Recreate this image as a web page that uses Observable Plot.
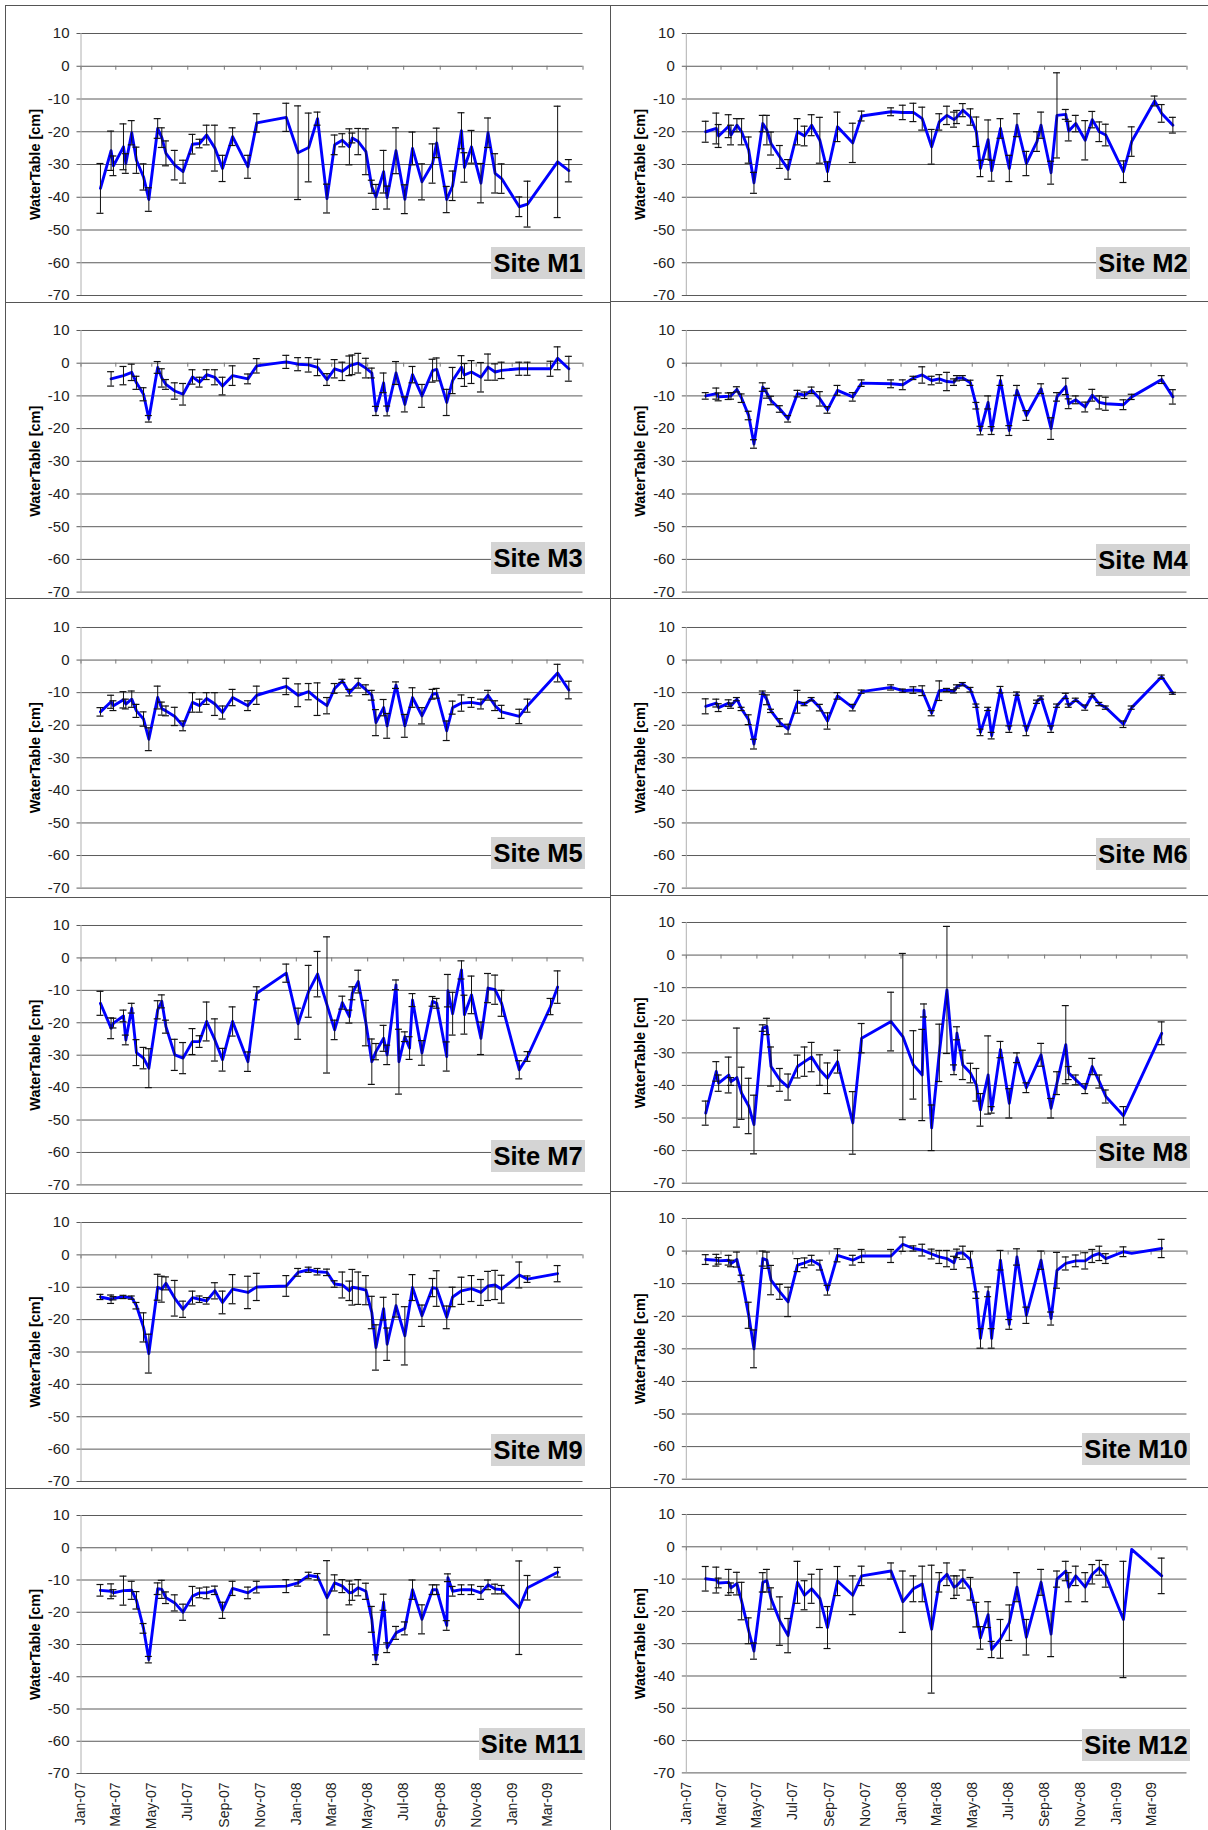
<!DOCTYPE html>
<html><head><meta charset="utf-8">
<script src="https://cdn.jsdelivr.net/npm/d3@7"></script>
<script src="https://cdn.jsdelivr.net/npm/@observablehq/plot@0.6"></script>
<style>
html,body{margin:0;padding:0;background:#fff;overflow:hidden;}
#fig{position:relative;width:1208px;height:1830px;overflow:hidden;background:#fff;font-family:"Liberation Sans",Arial,sans-serif;}
#fig svg{position:absolute;overflow:visible;}
#fig svg [aria-label^="y-axis"] text{font-size:15px;font-family:"Liberation Sans",Arial,sans-serif;fill:#222;}
#fig svg [aria-label^="x-axis"] text{font-size:14px;font-family:"Liberation Sans",Arial,sans-serif;fill:#222;}
.hline{position:absolute;height:1px;background:#555;}
.vline{position:absolute;width:1px;background:#555;}
.site{position:absolute;background:#d4d4d4;font-weight:bold;font-size:25.5px;color:#000;height:32px;line-height:33px;padding:0 2px;white-space:nowrap;font-family:"Liberation Sans",Arial,sans-serif;}
</style></head>
<body><div id="fig"></div>
<script>
// ---------- DATA ----------
const sampleDates = [
"2007-02-03","2007-02-21","2007-02-25","2007-03-14","2007-03-18","2007-03-28","2007-04-05","2007-04-17","2007-04-26","2007-05-11",
"2007-05-18","2007-05-25","2007-06-09","2007-06-23","2007-07-09","2007-07-21","2007-08-02","2007-08-16","2007-08-29","2007-09-15",
"2007-10-11","2007-10-26","2007-12-15","2008-01-04","2008-01-22","2008-02-06","2008-02-22","2008-03-06","2008-03-19","2008-03-31",
"2008-04-05","2008-04-15","2008-04-28","2008-05-08","2008-05-15","2008-05-28","2008-06-03","2008-06-18","2008-07-03","2008-07-16",
"2008-08-01","2008-08-19","2008-08-26","2008-09-12","2008-09-22","2008-10-07","2008-10-12","2008-10-24","2008-11-09","2008-11-21",
"2008-12-03","2008-12-14","2009-01-13","2009-01-27","2009-03-07","2009-03-19","2009-04-07",
"2008-02-09","2008-06-23","2008-07-11","2008-09-14"];

const yTicks = [10, 0, -10, -20, -30, -40, -50, -60, -70];
const xTickLabels = ["Jan-07","Mar-07","May-07","Jul-07","Sep-07","Nov-07","Jan-08","Mar-08","May-08","Jul-08","Sep-08","Nov-08","Jan-09","Mar-09"];
const siteNames = ["Site M1","Site M2","Site M3","Site M4","Site M5","Site M6","Site M7","Site M8","Site M9","Site M10","Site M11","Site M12"];
const yTitle = "WaterTable [cm]";

// each row: [sample date index, mean water table (cm), error (cm)]
const siteM1 = [[0,-37.3,7.6],[1,-25.8,6],[2,-30.4,3],[3,-24.6,7],[4,-29.7,3],[5,-20.3,3.7],[6,-28.7,4],[7,-33.8,4],[8,-40.7,3.6],[9,-19,3],[10,-21.8,3],[11,-26.6,3.8],[12,-30.2,4.5],[13,-32.2,3.5],[14,-23.8,3],[15,-23.6,1.3],[16,-21,3],[17,-25,7],[18,-31.2,4],[19,-21.5,2.7],[20,-30.7,3.5],[21,-17.3,2.8],[22,-15.6,4.3],[23,-26.4,14.3],[24,-24.8,10.5],[25,-16,2],[26,-40.4,4.4],[27,-24,3],[28,-22.6,2],[29,-24.6,5.5],[30,-21.9,1.5],[31,-23,4],[32,-26.1,7],[33,-36.8,2],[34,-39.9,3.8],[35,-32.2,6.5],[36,-40.1,3.5],[37,-25.8,7],[38,-40.6,4.4],[39,-25.1,5],[40,-35.3,5.5],[41,-29.7,6],[42,-23.4,4.5],[43,-40.7,4],[44,-36.5,4.5],[45,-19.7,5.5],[46,-30.9,4.5],[47,-24.6,5],[48,-35.7,6],[49,-20.3,4.5],[50,-32.7,6],[51,-34.3,4.5],[52,-42.9,3],[53,-42.1,7],[55,-29.2,17],[56,-31.9,3.4]];
const siteM2 = [[0,-20,3.2],[1,-19,4.7],[2,-21.3,3.5],[3,-18.3,3.5],[4,-21,3],[5,-18,2],[6,-20,4],[7,-25.6,4],[8,-35.6,3.2],[9,-17.5,2.5],[10,-19.5,4.5],[11,-23.6,3.5],[12,-27.7,3.5],[13,-31.5,3],[14,-20,4],[15,-21.3,3],[16,-18,3.2],[17,-22.6,7],[18,-32.2,3],[19,-18.5,4.5],[20,-23.4,6],[21,-15.2,1.5],[22,-13.9,1.2],[23,-14.1,2.2],[24,-14.1,2.8],[25,-16,3.5],[26,-24.6,5.3],[27,-17,2.5],[28,-15,2.8],[29,-16.3,2.3],[30,-15.5,2],[31,-13.4,2],[32,-15.5,2.5],[33,-20,4.5],[34,-31.2,2.5],[35,-22.4,6],[36,-31.9,3.2],[37,-19,3],[38,-31.2,4],[39,-18,3.5],[40,-29.7,3.7],[41,-23,3],[42,-18,4],[43,-32.5,3.5],[44,-15,13],[45,-14.7,1.5],[46,-19.8,3],[47,-17.5,2.5],[48,-22.6,6],[49,-16.3,2.5],[50,-20,3],[51,-21,3.3],[52,-32.2,3.3],[53,-23,4.5],[54,-10.6,1.5],[55,-14.4,2.7],[56,-18,2.4]];
const siteM3 = [[1,-4.8,2.2],[3,-3.8,2.8],[5,-2.8,2.5],[6,-6,2],[7,-9.5,2],[8,-17,1],[9,-1.3,1.8],[10,-4.5,2.8],[11,-6.5,1.5],[12,-8.5,2.5],[13,-9.5,3.3],[14,-4.2,2.2],[15,-5.8,1.5],[16,-3.5,1.5],[17,-4.3,2.3],[18,-7,2.7],[19,-3.8,3],[20,-4.8,1.5],[21,-0.8,2.2],[22,0.4,2],[23,-0.3,2],[24,-0.5,2.2],[25,-1.3,2.5],[26,-5,1.8],[27,-1.7,2.8],[28,-2.5,2.8],[29,-0.8,3],[30,-0.5,3],[31,0,3],[32,-1.5,3],[33,-3,1.5],[34,-14.6,1.4],[35,-6,3],[36,-14.6,1.5],[37,-3,3.5],[38,-12.6,2.3],[39,-3.5,2.5],[40,-10,3.5],[41,-2.3,3.5],[42,-1.9,3.5],[43,-12,4],[44,-5.3,4],[45,-1.2,3.5],[46,-3.6,3.5],[47,-2.7,3.5],[48,-4.3,4.5],[49,-1.2,4],[50,-2.7,2.5],[51,-2.2,2.5],[52,-1.7,2],[53,-1.7,2],[54,-1.7,2.3],[55,1.5,3.5],[56,-1.7,3.8]];
const siteM4 = [[0,-10,1],[1,-9.3,1.7],[2,-10.3,1.2],[3,-10.1,1],[4,-10,1],[5,-8,0.8],[6,-10.7,1.3],[7,-16,1.3],[8,-24.7,1.3],[9,-7.3,1.3],[10,-9.2,1.5],[11,-11.4,1.3],[12,-14,1],[13,-17,1],[14,-9.3,1],[15,-9.8,1],[16,-8.3,1],[17,-10.9,2.2],[18,-14.3,1],[19,-8.3,1.5],[20,-10.3,1.3],[21,-6.1,1],[22,-6.3,1.2],[23,-6.6,1.5],[24,-4.5,0.5],[25,-3.6,2.5],[26,-5.3,1.3],[27,-4.8,1.3],[28,-5.6,2.8],[29,-5.8,1],[30,-4.6,0.8],[31,-4.5,0.7],[32,-6,0.8],[33,-13,1],[34,-20.6,1.3],[35,-12,2],[36,-20.6,1.2],[37,-5.3,1.5],[38,-20.6,1.5],[39,-8.3,1.5],[40,-16,1.5],[42,-7.8,1.5],[43,-20,3.3],[44,-10.3,1.3],[45,-7.1,2.5],[46,-12.4,1.5],[47,-11.2,1.2],[48,-13.4,1.5],[49,-9.8,1.8],[50,-12,2],[51,-12.4,2],[52,-12.7,1.5],[53,-10.3,0.8],[55,-5,1.2],[56,-10.3,2.2]];
const siteM5 = [[0,-15.9,1.3],[1,-12.8,2],[2,-14,1.5],[3,-12.2,2.5],[4,-13.5,1.5],[5,-12,2.5],[6,-15.6,2],[7,-18.1,2.2],[8,-24.3,3.5],[9,-11.5,3.5],[10,-14.9,2],[11,-15.6,1.5],[12,-17.3,2.8],[13,-20.2,1.5],[14,-13,3],[15,-14,2],[16,-11.8,1.8],[17,-13.5,3.5],[18,-16.1,2],[19,-11.5,2.5],[20,-14,1.5],[21,-10.8,2.8],[22,-8.1,2.5],[23,-10.8,3.5],[24,-9.7,2.5],[25,-12,5],[26,-14,2.5],[27,-8.7,1.5],[28,-6.4,0.5],[29,-10,1],[31,-7.1,1.5],[32,-9.1,1.5],[33,-10.8,1.5],[34,-19.2,4],[35,-14.6,2.5],[36,-20.2,3.8],[37,-7.7,1],[38,-20.2,3.5],[39,-11.5,3],[40,-17.1,2.5],[41,-10.5,1.5],[42,-10.2,1.5],[43,-21.7,3],[44,-14.6,2],[45,-13.2,2.5],[47,-13,1.5],[48,-13.5,1.5],[49,-10.8,1.5],[50,-14,1.5],[51,-15.9,2],[52,-17.3,2.2],[53,-14,2],[55,-4,2.7],[56,-9.2,2.7]];
const siteM6 = [[0,-14.2,2.3],[1,-13.2,1.2],[2,-14.6,1.2],[3,-13.2,1],[4,-14,0.8],[5,-12,0.5],[6,-15,0.5],[7,-18.3,1.5],[8,-25.8,1.5],[9,-10,0.5],[10,-12.2,1.5],[11,-15.6,0.5],[12,-19.2,1.2],[13,-21.2,1.5],[14,-12.8,3.5],[15,-13.5,0.5],[16,-12,0.5],[17,-14.6,1],[18,-18.7,2.5],[19,-11,1],[20,-14.6,1],[21,-9.7,0.5],[22,-8.4,0.8],[23,-9.4,0.5],[24,-9.2,1],[25,-9.4,1.5],[26,-16.3,0.8],[27,-9.4,3],[28,-9.2,0.5],[29,-9.6,0.5],[30,-8.1,0.5],[31,-7.4,0.5],[32,-9.1,0.7],[33,-14,0.5],[34,-22.2,1],[35,-15,0.5],[36,-23.2,1],[37,-9.1,1],[38,-21.2,1],[39,-10.3,0.5],[40,-21.7,1.5],[41,-12.8,0.5],[42,-11.5,0.5],[43,-21.2,1],[44,-14,0.5],[45,-11,0.8],[46,-14,0.5],[47,-12.2,0.5],[48,-14.6,0.8],[49,-10.8,0.5],[50,-13.5,0.5],[51,-14.6,0.5],[52,-19.7,1],[53,-14.6,0.5],[55,-5.1,0.5],[56,-10.2,0.3]];
const siteM7 = [[0,-14,3.7],[1,-21.7,3.2],[2,-20.1,1.5],[3,-17.9,1.8],[4,-25.3,1.5],[5,-15.5,1.5],[6,-29.2,4],[7,-30.9,3.3],[8,-34,6],[9,-16,2.8],[10,-13.4,2],[11,-21.2,2],[12,-29.9,4.8],[13,-30.9,4.8],[14,-25.8,4],[15,-25.8,1.8],[16,-19.6,6],[17,-25.3,6.5],[18,-31.4,3.5],[19,-19.6,4.5],[20,-32,3],[21,-10.9,2],[22,-4.7,2.8],[23,-20.3,4.8],[24,-10.3,8],[25,-5,7],[26,-14.5,21],[27,-22.2,3],[28,-13.8,2],[29,-18.1,2],[30,-10.9,2],[31,-7.3,3.5],[32,-20.1,7],[33,-32,7],[34,-28.9,2.5],[35,-24.8,4],[36,-29.9,3],[37,-8.3,1.5],[58,-32,10],[38,-24.3,1.5],[59,-27.8,3.5],[39,-13,2],[40,-29.3,3.8],[41,-13.4,1.5],[42,-14,1.5],[43,-30.4,4.5],[60,-10.1,5],[44,-17.2,6.6],[45,-3.7,2.8],[46,-17.5,6],[47,-11.4,5.8],[48,-24.8,5],[49,-9.3,4.5],[50,-9.8,4.5],[51,-14,4],[52,-34.5,2.8],[53,-30.4,1.5],[54,-15,2.5],[55,-9,5]];
const siteM8 = [[0,-48.5,3.7],[1,-35.7,3],[2,-39.3,2.5],[3,-36.8,5.5],[4,-38.8,1.2],[5,-37.6,15.2],[6,-42.4,8],[7,-46.3,8.5],[8,-52,9],[9,-22.4,1],[10,-21.9,2.5],[11,-34.2,6],[12,-38.3,3.5],[13,-40.5,4],[14,-34.2,3.5],[15,-32.7,4.5],[16,-31.3,4.5],[17,-35.3,4.7],[18,-37.8,4.7],[19,-32.7,3.5],[20,-51.5,9.6],[21,-25.5,4.5],[22,-20.4,9],[23,-25,25.5],[24,-33.7,10.5],[25,-36.8,14],[57,-17,2],[26,-53,7],[27,-30,8.8],[28,-10.7,19.5],[29,-35.2,1.5],[30,-24,2],[31,-33.7,4.5],[32,-36.2,3],[33,-39.8,5],[34,-47.5,5],[35,-36.8,12],[36,-47.5,1],[37,-29,2.5],[38,-45.5,4.5],[39,-31.5,1.5],[40,-40.7,1.5],[42,-30.6,3.5],[43,-47,3],[44,-39.3,3.5],[45,-27.5,12],[46,-36.2,2],[47,-38.3,1.5],[48,-41,1.5],[49,-34.2,2.5],[50,-38.8,2],[51,-43.4,2],[52,-49.3,2.8],[55,-24,3.5]];
const siteM9 = [[0,-13,0.8],[1,-13.7,1.3],[2,-13.4,0.5],[3,-13,0.5],[5,-13.2,0.5],[6,-15.7,1],[7,-22.4,4.5],[8,-30.5,6],[9,-10,4],[10,-10.6,4],[11,-8.8,2],[12,-13.4,5.5],[13,-16.8,2.5],[14,-13.2,2],[15,-13.7,1],[16,-14.2,1],[17,-11.1,2.5],[18,-14.7,3.5],[19,-10.6,4.5],[20,-11.6,5],[21,-9.9,4.2],[22,-9.6,3.2],[23,-5.4,1.2],[24,-4.6,0.8],[25,-5.2,1],[26,-5.4,1],[27,-9,1],[28,-9.3,4],[29,-11.1,3],[30,-10,5.5],[31,-10.3,5],[32,-10.9,4.5],[33,-17.8,5],[34,-28.6,7],[35,-16.6,3.5],[36,-27.6,5],[37,-15.7,3.5],[38,-25,9],[39,-10.1,4],[40,-18.8,3.3],[41,-10.1,2.8],[42,-10.4,5.5],[43,-19.3,3.5],[44,-13,3],[45,-11.1,4.2],[47,-10.4,4],[48,-11.6,4],[49,-9.6,4.5],[50,-9.3,4.5],[51,-10.6,4.3],[52,-6.2,4],[53,-7.5,1],[55,-5.8,2.5]];
const siteM10 = [[0,-2.6,1.5],[1,-2.8,1.8],[2,-3,1],[3,-2.8,1.5],[4,-3.8,1],[5,-2.6,2.3],[6,-8.4,1],[7,-19.7,4],[8,-30,5.8],[9,-2.3,2.3],[10,-2.8,2.5],[11,-8.9,4.5],[12,-12.5,2.3],[13,-15.6,4.5],[14,-4.3,2],[15,-3.6,1.5],[16,-2.8,1.5],[17,-4.3,1.5],[18,-12,1.5],[19,-1.3,2],[20,-2.8,1.5],[21,-1.5,2],[22,-1.5,2],[23,2.1,2.2],[24,0.8,0.8],[25,0.3,1.8],[26,-0.9,1.5],[27,-1.8,2],[28,-2.3,2.5],[29,-3.6,2],[30,-0.7,1.3],[31,-0.5,2],[32,-2.6,2.5],[33,-13.5,1],[34,-26.8,3],[35,-12.5,1.5],[36,-26.8,3],[37,-2.8,3],[38,-22.5,1.5],[39,-1.8,2.5],[40,-19.7,2.5],[42,-2.8,2.8],[43,-20.7,2],[44,-5.9,5.5],[45,-3.8,2],[47,-3,1.8],[48,-3,2.5],[49,-1.5,2],[50,-0.7,2.2],[51,-2.3,1.5],[52,-0.2,1.5],[53,-0.7,0],[55,0.8,2.8]];
const siteM11 = [[0,-13.2,1.8],[1,-13.5,2.3],[2,-14,1],[3,-13.3,4.5],[5,-13.2,2.8],[6,-16.3,2.7],[7,-25,1.5],[8,-34.7,1],[9,-12.7,1.8],[10,-12.9,2.8],[11,-15.5,1.8],[12,-17.1,2.5],[13,-20,2.5],[14,-15,3],[15,-14,1.5],[16,-14,1.8],[17,-13.2,1.3],[18,-19.4,2.5],[19,-12.6,2.2],[20,-14,1.8],[21,-12.2,1.8],[22,-11.9,2],[23,-10.9,1],[24,-8.6,1],[25,-9,1],[26,-15.5,11.5],[27,-10.9,2.5],[28,-11.9,2],[29,-14,3.7],[30,-13.8,2.5],[31,-12.4,2.5],[32,-13.5,2.5],[33,-22.2,4],[34,-34.7,1.5],[35,-16.9,2.5],[36,-31,1.5],[37,-26.4,2],[38,-25,2],[39,-13,3],[40,-22.2,4.5],[41,-13,1.5],[42,-13,1.5],[43,-24.1,1.5],[60,-9.3,1.2],[44,-13.5,1.5],[45,-13,1.5],[47,-13,1.5],[48,-14,2],[49,-11.5,1.5],[50,-12.8,1.5],[51,-13,1.3],[52,-18.6,14.5],[53,-12.4,3.8],[55,-7.6,1.5]];
const siteM12 = [[0,-9.9,3.8],[1,-10.3,4],[2,-11.2,1.5],[3,-11,4],[4,-12.7,1.5],[5,-11.4,3.5],[6,-16.8,5.8],[7,-26,4],[8,-32.3,2.5],[9,-11,3],[10,-10.5,3.5],[11,-16,3.3],[12,-23,7.5],[13,-27.5,5.3],[14,-11,6.5],[15,-15,4.5],[16,-13,4.5],[17,-16,9],[18,-25,6.5],[19,-10.6,4.5],[20,-15,6],[21,-9,3],[22,-7.5,2.5],[23,-17,9.5],[24,-13,4],[25,-11.5,5.5],[26,-25.5,19.8],[27,-11,3],[28,-8.5,3.5],[29,-12.5,3.5],[30,-12,3],[31,-10,2.8],[32,-13,3.5],[33,-21,3.8],[34,-28.2,3.5],[35,-21,4],[36,-31.8,2.5],[37,-28.5,6],[38,-23.5,5.5],[39,-12.5,4.5],[40,-28,5.5],[42,-11,4],[43,-27,7],[44,-10,2.5],[45,-7.5,3],[46,-12.5,4.5],[47,-9,3],[48,-12.5,4.5],[49,-8.5,3],[50,-6.5,2.3],[51,-9,3.5],[52,-22.5,18],[53,-0.8,0],[55,-9,5.5]];

const sites = [siteM1, siteM2, siteM3, siteM4, siteM5, siteM6, siteM7, siteM8, siteM9, siteM10, siteM11, siteM12];

// ---------- LAYOUT ----------
const fig = document.getElementById("fig");
const cols = [
  {left: 5, width: 605, ml: 75.5, mr: 27.5, boxRight: 584.7},
  {left: 610, width: 598, ml: 75.8, mr: 21.5, boxRight: 1189.6}
];
// pixel position of the 10 and -70 gridlines for each panel, and label box top
const layout = [
  {col: 0, top: 33.3, bottom: 295.3, boxTop: 247},
  {col: 1, top: 33.3, bottom: 295.3, boxTop: 247},
  {col: 0, top: 329.7, bottom: 591.3, boxTop: 542},
  {col: 1, top: 329.7, bottom: 591.3, boxTop: 544},
  {col: 0, top: 626.7, bottom: 887.3, boxTop: 837},
  {col: 1, top: 626.7, bottom: 887.3, boxTop: 838},
  {col: 0, top: 925.3, bottom: 1184.7, boxTop: 1140},
  {col: 1, top: 922.3, bottom: 1183, boxTop: 1136},
  {col: 0, top: 1221.7, bottom: 1480.7, boxTop: 1434},
  {col: 1, top: 1218.3, bottom: 1479, boxTop: 1433},
  {col: 0, top: 1515.3, bottom: 1773.3, boxTop: 1728},
  {col: 1, top: 1514.3, bottom: 1772.7, boxTop: 1729}
];

const parseLabel = d3.utcParse("%b-%y");
const labelDates = xTickLabels.map(parseLabel);
const xStart = new Date(Date.UTC(2007, 0, 1));
const xEnd = new Date(Date.UTC(2009, 4, 1));
const zeroTicks = d3.utcMonth.every(2).range(xStart, new Date(Date.UTC(2009, 4, 2)));
const dates = sampleDates.map(s => new Date(s + "T00:00:00Z"));
const MT = 20;

layout.forEach((p, k) => {
  const c = cols[p.col];
  const isBottom = k >= 10;
  const mb = isBottom ? 57 : 8;
  const plotH = p.bottom - p.top;
  const rows = sites[k].map(([i, v, e]) => ({date: dates[i], v, e})).sort((a, b) => a.date - b.date);
  const withErr = rows.filter(d => d.e > 0);

  const chart = Plot.plot({
    width: c.width,
    height: MT + plotH + mb,
    marginTop: MT, marginBottom: mb, marginLeft: c.ml, marginRight: c.mr,
    style: {fontFamily: "'Liberation Sans', Arial, sans-serif", fontSize: "14px", color: "#222", background: "transparent", overflow: "visible"},
    x: {type: "utc", domain: [xStart, xEnd], axis: isBottom ? "bottom" : null, ticks: labelDates,
        tickFormat: d3.utcFormat("%b-%y"), tickRotate: -90, tickSize: 0, tickPadding: 9, label: null},
    y: {domain: [-70, 10], ticks: yTicks, tickFormat: d => String(d), tickSize: 0, tickPadding: 11.5, label: null},
    marks: [
      Plot.ruleY(yTicks, {stroke: "#5a5a5a", strokeWidth: 1, insetLeft: -4}),
      Plot.ruleX([xStart], {stroke: "#b0b0b0", strokeWidth: 1}),
      Plot.ruleX(zeroTicks, {x: d => d, y1: 0, y2: 0, insetBottom: -4, stroke: "#777", strokeWidth: 1}),
      Plot.line(rows, {x: "date", y: "v", stroke: "#0000ff", strokeWidth: 2.9, strokeLinejoin: "round", strokeLinecap: "round"}),
      Plot.ruleX(withErr, {x: "date", y1: d => d.v - d.e, y2: d => d.v + d.e, stroke: "#111", strokeWidth: 1}),
      Plot.ruleY(withErr, {x1: "date", x2: "date", y: d => d.v + d.e, insetLeft: -3.5, insetRight: -3.5, stroke: "#111", strokeWidth: 1.2}),
      Plot.ruleY(withErr, {x1: "date", x2: "date", y: d => d.v - d.e, insetLeft: -3.5, insetRight: -3.5, stroke: "#111", strokeWidth: 1.2}),
      Plot.text([yTitle], {frameAnchor: "left", dx: -46, rotate: -90, textAnchor: "middle", lineAnchor: "middle",
                           fontWeight: "bold", fontSize: 14.5, fill: "#000"})
    ]
  });
  chart.style.position = "absolute";
  chart.style.left = c.left + "px";
  chart.style.top = (p.top - MT) + "px";
  fig.appendChild(chart);

  const lab = document.createElement("div");
  lab.className = "site";
  lab.textContent = siteNames[k];
  lab.style.top = p.boxTop + "px";
  lab.style.right = (1208 - c.boxRight) + "px";
  fig.appendChild(lab);
});

// panel frames
const hLines = [
  {x: 5, w: 605, ys: [5, 301.5, 598.3, 897, 1193, 1487.7]},
  {x: 610, w: 598, ys: [5, 301.3, 598.3, 894.5, 1190.5, 1487]}
];
hLines.forEach(h => h.ys.forEach(y => {
  const d = document.createElement("div");
  d.className = "hline";
  d.style.left = h.x + "px"; d.style.width = h.w + "px"; d.style.top = Math.round(y) + "px";
  fig.appendChild(d);
}));
[5, 610].forEach(x => {
  const d = document.createElement("div");
  d.className = "vline";
  d.style.left = x + "px"; d.style.top = "5px"; d.style.height = "1825px";
  fig.appendChild(d);
});
</script></body></html>
